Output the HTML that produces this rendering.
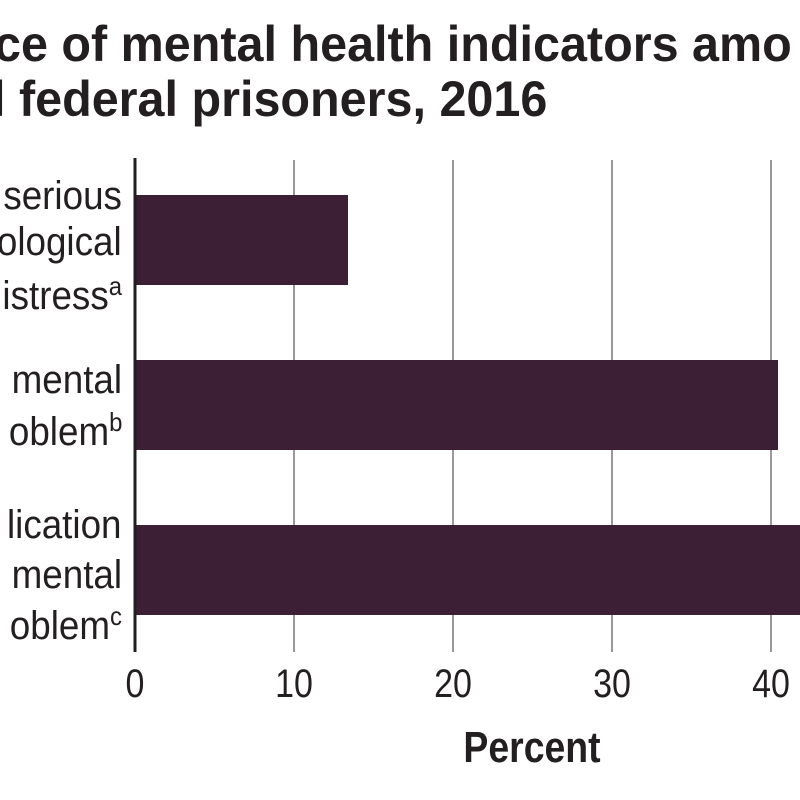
<!DOCTYPE html>
<html><head><style>
html,body{margin:0;padding:0;background:#fff;}
body{width:800px;height:800px;position:relative;overflow:hidden;font-family:"Liberation Sans",sans-serif;color:#231f20;}
.t{position:absolute;white-space:nowrap;font-weight:bold;font-size:50px;transform:scaleX(0.97);transform-origin:left top;}
.l{position:absolute;right:678px;white-space:nowrap;font-size:40px;transform:scaleX(0.92);transform-origin:right top;line-height:40px;}
.l sup{font-size:26px;vertical-align:14px;line-height:0;}
.k{position:absolute;top:662px;font-size:40px;transform:translateX(-50%) scaleX(0.85);line-height:44px;}
</style></head><body>
<div class="t" style="left:-6px;top:15px;">ce of mental health indicators amo</div>
<div class="t" style="left:-8px;top:70px;">l federal prisoners, 2016</div>
<svg width="800" height="800" style="position:absolute;left:0;top:0">
<g stroke="#999" stroke-width="2">
<line x1="294" y1="160" x2="294" y2="652"/>
<line x1="453" y1="160" x2="453" y2="652"/>
<line x1="612" y1="160" x2="612" y2="652"/>
<line x1="771" y1="160" x2="771" y2="652"/>
</g>
<rect x="135" y="195" width="213" height="90" fill="#3d1f35"/>
<rect x="135" y="360" width="643" height="90" fill="#3d1f35"/>
<rect x="135" y="525" width="670" height="90" fill="#3d1f35"/>
<line x1="135" y1="158" x2="135" y2="652" stroke="#231f20" stroke-width="3"/>
</svg>
<div class="l" style="top:176px;">serious</div>
<div class="l" style="top:222px;">ological</div>
<div class="l" style="top:276px;">istress<sup>a</sup></div>
<div class="l" style="top:360px;">mental</div>
<div class="l" style="top:412px;">oblem<sup>b</sup></div>
<div class="l" style="top:505px;">lication</div>
<div class="l" style="top:555px;">mental</div>
<div class="l" style="top:606px;">oblem<sup>c</sup></div>
<div class="k" style="left:135px;">0</div>
<div class="k" style="left:294px;">10</div>
<div class="k" style="left:453px;">20</div>
<div class="k" style="left:612px;">30</div>
<div class="k" style="left:771px;">40</div>
<div class="k" style="left:532px;top:726px;font-weight:bold;font-size:44px;">Percent</div>
</body></html>
